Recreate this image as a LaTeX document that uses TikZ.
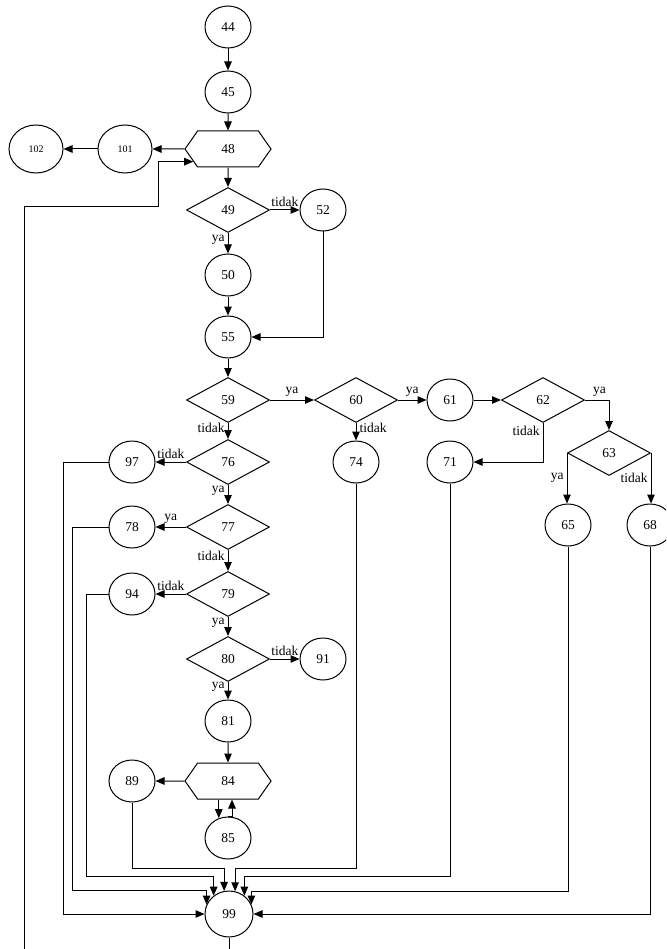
\documentclass[tikz,border=0pt]{standalone}
\usepackage{fontspec}
\setmainfont{Liberation Serif}
\usetikzlibrary{arrows.meta, positioning, shapes.geometric, shapes.symbols}

\begin{document}
\begin{tikzpicture}[x=1pt, y=-1pt, on grid, line width=1pt,
    every node/.style={font=\fontsize{13.5}{15}\selectfont},
    circ/.style={draw, ellipse, minimum width=46pt, minimum height=42pt, inner sep=0pt},
    endc/.style={circ, minimum width=54pt, minimum height=48pt, font=\fontsize{10}{12}\selectfont},
    dec/.style={draw, diamond, aspect=1.85, minimum width=83pt, minimum height=45pt, inner sep=0pt},
    loopbox/.style={draw, signal, signal to=east and west, signal pointer angle=110, minimum width=86pt, minimum height=36pt, inner sep=0pt},
    lab/.style={inner sep=3pt},
    flow/.style={-{Triangle[length=9pt,width=7.5pt]}}
]
    \useasboundingbox (0,0) rectangle (666,949);
    \clip (0,0) rectangle (666,949);

    % Start and outer loop
    \node[circ] (n44) at (228,27) {44};
    \node[circ, below=65pt of n44] (n45) {45};
    \node[loopbox, below=57pt of n45] (n48) {48};
    \node[endc, left=103pt of n48] (n101) {101};
    \node[endc, left=89pt of n101] (n102) {102};

    % First decision
    \node[dec, below=61pt of n48] (n49) {49};
    \node[circ, right=95pt of n49] (n52) {52};
    \node[circ, below=65pt of n49] (n50) {50};
    \node[circ, below=62pt of n50] (n55) {55};

    % Right branch
    \node[dec, below=63pt of n55] (n59) {59};
    \node[dec, right=128pt of n59] (n60) {60};
    \node[circ, right=94pt of n60] (n61) {61};
    \node[dec, right=93pt of n61] (n62) {62};
    \node[dec, below right=53pt and 66pt of n62] (n63) {63};
    \node[circ, below left=72pt and 41pt of n63] (n65) {65};
    \node[circ, below right=72pt and 41pt of n63] (n68) {68};
    \node[circ, below=62pt of n61] (n71) {71};
    \node[circ, below=62pt of n60] (n74) {74};

    % Left column
    \node[dec, below=62pt of n59] (n76) {76};
    \node[circ, left=96pt of n76] (n97) {97};
    \node[dec, below=65pt of n76] (n77) {77};
    \node[circ, left=96pt of n77] (n78) {78};
    \node[dec, below=67pt of n77] (n79) {79};
    \node[circ, left=96pt of n79] (n94) {94};
    \node[dec, below=65pt of n79] (n80) {80};
    \node[circ, right=95pt of n80] (n91) {91};
    \node[circ, below=62pt of n80] (n81) {81};
    \node[loopbox, below=60pt of n81] (n84) {84};
    \node[circ, left=96pt of n84] (n89) {89};
    \node[circ, below=57pt of n84] (n85) {85};

    % Exit
    \node[circ, minimum width=48pt, minimum height=46pt, below=76pt of n85, xshift=1pt] (n99) {99};

    % Arrows, top part
    \draw[flow] (n44) -- (n45);
    \draw[flow] (n45) -- (n48);
    \draw[flow] (n48) -- (n101);
    \draw[flow] (n101) -- (n102);
    \draw[flow] (n48) -- (n49);
    \draw[flow] (n49) -- node[lab, above] {tidak} (n52);
    \draw[flow] (n49) -- node[lab, left, pos=0.35] {ya} (n50);
    \draw[flow] (n50) -- (n55);
    \draw[flow] (n52) |- (n55);
    \draw[flow] (n55) -- (n59);

    % Arrows, right branch
    \draw[flow] (n59) -- node[lab, above] {ya} (n60);
    \draw[flow] (n60) -- node[lab, above] {ya} (n61);
    \draw[flow] (n61) -- (n62);
    \draw[flow] (n62.east) -| node[lab, above, pos=0.3] {ya} (n63.north);
    \draw[flow] (n62.south) |- node[lab, left, pos=0.1] {tidak} (n71);
    \draw[flow] (n60) -- node[lab, right, pos=0.3] {tidak} (n74);
    \draw[flow] (n63.west) -- node[lab, left] {ya} (n63.west |- n65.north);
    \draw[flow] (n63.east) -- node[lab, left] {tidak} (n63.east |- n68.north);

    % Arrows, left column
    \draw[flow] (n59) -- node[lab, left, pos=0.3] {tidak} (n76);
    \draw[flow] (n76) -- node[lab, above] {tidak} (n97);
    \draw[flow] (n76) -- node[lab, left, pos=0.3] {ya} (n77);
    \draw[flow] (n77) -- node[lab, above] {ya} (n78);
    \draw[flow] (n77) -- node[lab, left, pos=0.3] {tidak} (n79);
    \draw[flow] (n79) -- node[lab, above] {tidak} (n94);
    \draw[flow] (n79) -- node[lab, left, pos=0.3] {ya} (n80);
    \draw[flow] (n80) -- node[lab, above] {tidak} (n91);
    \draw[flow] (n80) -- node[lab, left, pos=0.3] {ya} (n81);
    \draw[flow] (n81) -- (n84);
    \draw[flow] (n84) -- (n89);
    \draw[flow] (n85.115 |- n84.south) -- (n85.115);
    \draw[flow] (n85.north) -| ([xshift=4pt]n84.south);

    % Into 99
    \draw[flow] (n97.west) -- ++(-45,0) |- (n99.west);
    \draw[flow] (n78.west) -- ++(-36,0) -- ++(0,363) -| (n99.157);
    \draw[flow] (n94.west) -- ++(-22,0) -- ++(0,282) -| (n99.130);
    \draw[flow] (n89.south) -- ++(0,66) -| (n99.102);
    \draw[flow] (n74.south) -- ++(0,385) -| (n99.75);
    \draw[flow] (n71.south) -- ++(0,393) -| (n99.50);
    \draw[flow] (n65.south) -- ++(0,345) -| (n99.23);
    \draw[flow] (n68.south) |- (n99.east);

    % Back to 48
    \draw[flow] (n99.south) -- ++(0,30) -| (24,207) -- (158,207) |- (n48.200);
\end{tikzpicture}
\end{document}
